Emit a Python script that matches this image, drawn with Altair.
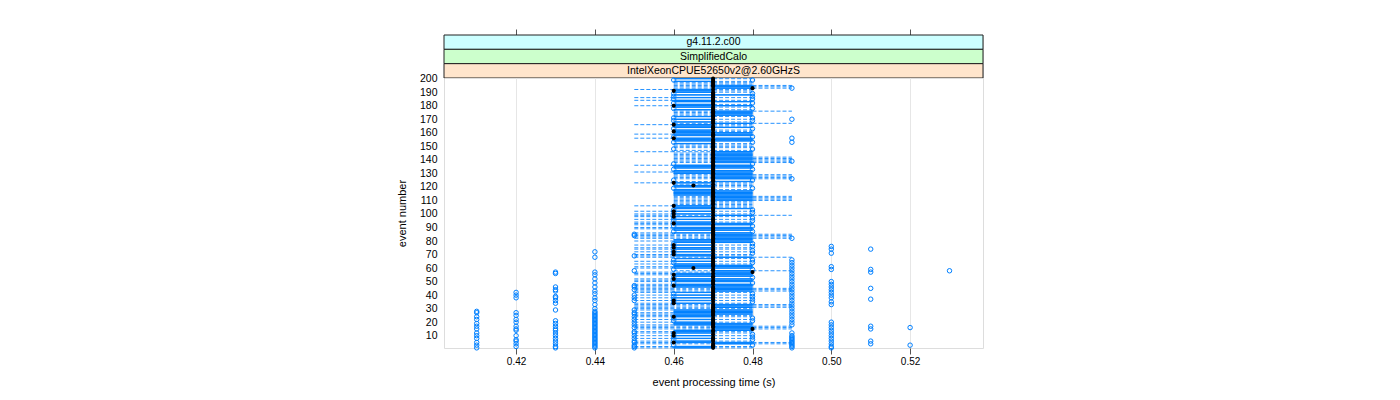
import altair as alt
import pandas as pd

# ---------------- data ----------------
EVENTS = list(range(1, 201))

# events whose box starts at 0.47 (otherwise 0.46)
BOX_LO_047 = [197, 196, 195, 194, 193, 176, 175, 174, 173, 167, 151, 150, 149, 147, 146, 145,
              144, 143, 142, 141, 140, 139, 138, 129, 128, 127, 126, 124, 122, 113, 112, 111,
              110, 109, 108, 107, 99, 85, 84, 83, 82, 68, 58, 57, 45, 44, 43, 33, 32, 31, 30,
              17, 16, 15, 4]
# events whose box ends at 0.48 (otherwise 0.47)
BOX_HI_048 = [195, 194, 193, 188, 183, 180, 176, 175, 174, 173, 167, 164, 160, 159, 158, 156,
              155, 154, 146, 145, 144, 143, 142, 141, 140, 139, 138, 136, 135, 134,
              132, 131, 130, 129, 128, 127, 126, 124, 117, 116, 115, 114, 113, 112, 111,
              110, 104, 99, 93, 92, 90, 89, 88, 86, 85, 84, 83, 82, 81, 80, 79, 68, 62,
              61, 60, 58, 57, 56, 55, 54, 52, 51, 50, 48, 47, 46, 45, 44, 43, 33,
              32, 31, 29, 28, 27, 26, 19, 18, 17, 16, 15, 14, 5, 4]
# events whose box is the single value 0.47 (all other times are outliers)
BOX_ZERO = [199, 189, 187, 185, 182, 178, 171, 169, 163, 157, 153, 148, 137, 133, 125, 119,
            103, 101, 97, 95, 91, 87, 78, 76, 73, 71, 66, 64, 59, 53, 49, 41, 39, 37, 35,
            23, 21, 11, 9, 7, 3]
# events whose lower whisker reaches 0.45
WHISK_LO_045 = [192, 186, 184, 180, 166, 159, 156, 146, 136, 131, 123, 106, 102, 100, 99,
                98, 96, 94, 93, 92, 90, 89, 86, 85, 84, 83, 82, 80, 77, 75, 74,
                72, 70, 69, 68, 65, 63, 61, 60, 57, 56, 55, 52, 51, 50, 48,
                47, 46, 45, 44, 43, 42, 40, 38, 36, 34, 33, 32, 31, 30, 29, 27, 26, 25,
                24, 22, 20, 18, 17, 16, 15, 13, 12, 10, 8, 6, 5, 4, 2, 1]
# events whose upper whisker reaches 0.49
WHISK_HI_049 = [195, 194, 193, 176, 167, 142, 141, 140, 139, 138, 129, 128, 127, 126, 113, 112,
                111, 110, 99, 85, 84, 83, 82, 68, 58, 45, 44, 43, 33, 32, 31, 17, 16, 15, 5, 4]
# medians (default 0.47)
MEDIAN_046 = [5, 10, 12, 24, 34, 36, 47, 52, 55, 70, 72, 75, 77, 93, 98, 100, 102, 106, 123,
              156, 161, 166, 180, 191]
MEDIAN_048 = [15, 57, 193]
MEDIAN_0465 = [60, 121]

# outliers (events) at each time value
OUT_041 = [1, 3, 5, 8, 10, 12, 15, 17, 19, 22, 24, 27, 28]
OUT_042 = [2, 4, 6, 7, 10, 14, 15, 17, 20, 22, 25, 27, 38, 40, 42]
OUT_043 = [1, 2, 4, 6, 8, 10, 12, 14, 15, 17, 19, 21, 29, 34, 36, 38, 39, 43, 44, 46, 56, 57]
OUT_044 = [1, 2, 3, 4, 5, 6, 7, 8, 9, 10, 11, 12, 13, 14, 15, 16, 17, 18, 19, 20, 21, 22, 23,
           24, 25, 26, 27, 28, 30, 33, 36, 38, 41, 43, 46, 49, 52, 55, 57, 68, 72]
OUT_045 = [1, 2, 3, 5, 6, 8, 10, 12, 13, 16, 18, 20, 22, 24, 26, 27, 29, 36, 38, 40, 44, 46,
           47, 58, 69, 84, 85]
OUT_046 = BOX_ZERO
OUT_048 = BOX_ZERO
OUT_049 = [193, 170, 156, 153, 139, 126, 82, 66, 64, 62, 60, 58, 56, 54, 52, 50, 48, 46, 44,
           42, 40, 38, 36, 34, 32, 30, 28, 26, 24, 22, 20, 18, 12, 10, 9, 8, 7, 6, 5, 4, 3, 2, 1]
OUT_050 = [1, 2, 4, 6, 8, 10, 12, 14, 16, 18, 20, 33, 35, 38, 40, 42, 44, 46, 48, 50, 59, 61,
           71, 74, 76]
OUT_051 = [4, 6, 15, 17, 37, 45, 57, 59, 74]
OUT_052 = [3, 16]
OUT_053 = [58]

X_DOMAIN = [0.4017, 0.5385]
Y_DOMAIN = [0.9, 200.5]
X_TICKS = [0.42, 0.44, 0.46, 0.48, 0.50, 0.52]
Y_TICKS = list(range(10, 201, 10))
STRIPS = ["g4.11.2.c00", "SimplifiedCalo", "IntelXeonCPUE52650v2@2.60GHzS"]
STRIP_COLORS = ["#ccffff", "#ccffcc", "#ffe5cc"]

# ---------------- tables ----------------
rows, whisk = [], []
for e in EVENTS:
    if e in BOX_ZERO:
        lo = hi = 0.47
    else:
        lo = 0.47 if e in BOX_LO_047 else 0.46
        hi = 0.48 if e in BOX_HI_048 else 0.47
    if e in MEDIAN_046:
        med = 0.46
    elif e in MEDIAN_048:
        med = 0.48
    elif e in MEDIAN_0465:
        med = 0.465
    else:
        med = 0.47
    rows.append({"event": e, "lo": lo, "hi": hi, "med": med})
    if e in BOX_ZERO:
        continue
    wlo = min(0.45 if e in WHISK_LO_045 else 0.46, lo)
    whi = max(0.49 if e in WHISK_HI_049 else 0.48, hi)
    if wlo < lo:
        whisk.append({"event": e, "a": wlo, "b": lo})
    if whi > hi:
        whisk.append({"event": e, "a": hi, "b": whi})

outl = []
for t, lst in [(0.41, OUT_041), (0.42, OUT_042), (0.43, OUT_043), (0.44, OUT_044),
               (0.45, OUT_045), (0.46, OUT_046), (0.48, OUT_048), (0.49, OUT_049),
               (0.50, OUT_050), (0.51, OUT_051), (0.52, OUT_052), (0.53, OUT_053)]:
    for e in lst:
        outl.append({"event": e, "t": t})

box_df = pd.DataFrame(rows)
wh_df = pd.DataFrame(whisk)
out_df = pd.DataFrame(outl)

BLUE = "#0080ff"
FONT = "Liberation Sans"
W, H = 539, 270

xs = alt.Scale(domain=X_DOMAIN, nice=False, zero=False)
ys = alt.Scale(domain=Y_DOMAIN, nice=False, zero=False)

x_axis = alt.Axis(values=X_TICKS, format=".2f", tickSize=6, tickColor="#555", domain=False,
                  grid=True, gridColor="#e6e6e6", labelFontSize=10, labelPadding=2,
                  labelColor="black", title="event processing time (s)", titleFontSize=11,
                  titleFontWeight="normal", titlePadding=10, labelFont=FONT, titleFont=FONT)
y_axis = alt.Axis(values=Y_TICKS, ticks=False, domain=False, grid=False, labelFontSize=10.5,
                  labelPadding=7, labelColor="black", labelOverlap=False, title="event number",
                  titleFontSize=11, titleFontWeight="normal", titlePadding=12,
                  labelFont=FONT, titleFont=FONT)

base_grid = alt.Chart(box_df).mark_rule(opacity=0).encode(
    x=alt.X("med:Q", scale=xs, axis=x_axis),
    y=alt.Y("event:Q", scale=ys, axis=y_axis),
)

whiskers = alt.Chart(wh_df).mark_rule(color=BLUE, strokeWidth=1, strokeDash=[4, 2],
                                      opacity=0.85).encode(
    x=alt.X("a:Q", scale=xs), x2="b:Q", y=alt.Y("event:Q", scale=ys, axis=y_axis))

boxes = alt.Chart(box_df).transform_filter("datum.hi > datum.lo").transform_calculate(
    y0="datum.event - 0.15", y1="datum.event + 0.15"
).mark_rect(fillOpacity=0, stroke=BLUE, strokeWidth=1).encode(
    x=alt.X("lo:Q", scale=xs), x2="hi:Q", y=alt.Y("y0:Q", scale=ys, axis=y_axis), y2="y1:Q")

outliers = alt.Chart(out_df).mark_point(shape="circle", filled=False, size=20, color=BLUE,
                                         strokeWidth=1, opacity=1).encode(
    x=alt.X("t:Q", scale=xs), y=alt.Y("event:Q", scale=ys, axis=y_axis))

medians = alt.Chart(box_df).mark_circle(size=17, color="black", opacity=1).encode(
    x=alt.X("med:Q", scale=xs), y=alt.Y("event:Q", scale=ys, axis=y_axis))

main = alt.layer(base_grid, whiskers, boxes, outliers, medians).properties(width=W, height=H)

strip_df = pd.DataFrame({"label": STRIPS, "x0": [X_DOMAIN[0]] * 3, "x1": [X_DOMAIN[1]] * 3,
                         "xm": [(X_DOMAIN[0] + X_DOMAIN[1]) / 2] * 3})
strip_y = alt.Y("label:N", sort=STRIPS, axis=None,
                scale=alt.Scale(domain=STRIPS, paddingInner=0, paddingOuter=0))
strip_rect = alt.Chart(strip_df).mark_rect(stroke="#222", strokeWidth=1).encode(
    x=alt.X("x0:Q", scale=xs,
            axis=alt.Axis(orient="top", values=X_TICKS, labels=False, ticks=True, tickSize=6,
                          tickColor="#555", domain=False, grid=False, title=None)),
    x2="x1:Q",
    y=strip_y,
    color=alt.Color("label:N", scale=alt.Scale(domain=STRIPS, range=STRIP_COLORS), legend=None),
)
strip_text = alt.Chart(strip_df).mark_text(font=FONT, fontSize=10.5, color="black").encode(
    x=alt.X("xm:Q", scale=xs), y=strip_y, text="label:N")
strips = alt.layer(strip_rect, strip_text).properties(width=W, height=43)

chart = alt.vconcat(strips, main, spacing=0, bounds="flush").properties(
    padding={"left": 387, "top": 20, "right": 5, "bottom": 5}
).configure_view(stroke="#555", strokeWidth=1).configure_axisY(
    labelOverlap=False
).configure(font=FONT)

chart.save("out.html", embed_options={"renderer": "svg", "actions": False})
